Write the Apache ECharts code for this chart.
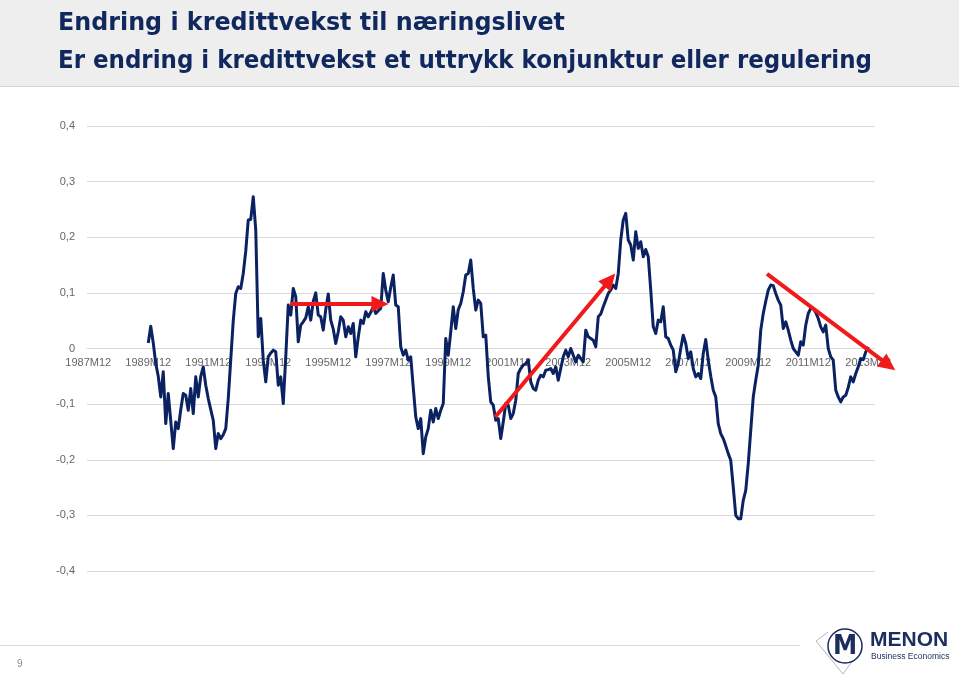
<!DOCTYPE html>
<html>
<head>
<meta charset="utf-8">
<script src="https://cdn.jsdelivr.net/npm/echarts/dist/echarts.min.js"></script>
<style>
html,body{margin:0;padding:0;background:#fff;}
#c{width:959px;height:676px;}
</style>
</head>
<body>
<div id="c"></div>
<script>
// ---- data ----
const startYear = 1987, startMonth = 12, categoryCount = 315;
const dataStartIndex = 24; // 1989M12
const values = [
  0.010, 0.040, 0.010,-0.027,-0.050,-0.087,-0.042,-0.135,-0.081,-0.130,
 -0.180,-0.132,-0.144,-0.110,-0.081,-0.084,-0.111,-0.072,-0.117,-0.051,
 -0.087,-0.050,-0.033,-0.066,-0.090,-0.110,-0.129,-0.180,-0.153,-0.162,
 -0.155,-0.144,-0.090,-0.020, 0.050, 0.099, 0.111, 0.108, 0.135, 0.175,
  0.231, 0.232, 0.273, 0.213, 0.021, 0.054,-0.021,-0.060,-0.015,-0.008,
 -0.003,-0.006,-0.066,-0.051,-0.099,-0.015, 0.078, 0.060, 0.108, 0.093,
  0.012, 0.042, 0.048, 0.055, 0.075, 0.051, 0.085, 0.100, 0.060, 0.057,
  0.033, 0.070, 0.098, 0.051, 0.035, 0.009, 0.030, 0.057, 0.051, 0.021,
  0.039, 0.027, 0.045,-0.015, 0.020, 0.051, 0.045, 0.066, 0.057, 0.065,
  0.075, 0.063, 0.068, 0.072, 0.135, 0.105, 0.084, 0.110, 0.132, 0.078,
  0.075, 0.003,-0.012,-0.003,-0.021,-0.015,-0.070,-0.123,-0.144,-0.126,
 -0.189,-0.159,-0.144,-0.111,-0.132,-0.108,-0.126,-0.111,-0.099, 0.018,
 -0.012, 0.030, 0.075, 0.036, 0.070, 0.081, 0.102, 0.132, 0.135, 0.159,
  0.108, 0.069, 0.087, 0.081, 0.021, 0.024,-0.050,-0.096,-0.102,-0.129,
 -0.126,-0.162,-0.132,-0.099,-0.102,-0.126,-0.117,-0.093,-0.045,-0.036,
 -0.030,-0.027,-0.021,-0.060,-0.072,-0.075,-0.057,-0.048,-0.051,-0.039,
 -0.038,-0.036,-0.045,-0.033,-0.057,-0.036,-0.015,-0.003,-0.015, 0.000,
 -0.012,-0.024,-0.012,-0.018,-0.024, 0.033, 0.021, 0.018, 0.015, 0.003,
  0.057, 0.062, 0.075, 0.087, 0.099, 0.105, 0.114, 0.108, 0.135, 0.195,
  0.231, 0.243, 0.195, 0.186, 0.159, 0.210, 0.180, 0.192, 0.165, 0.178,
  0.165, 0.105, 0.039, 0.027, 0.051, 0.048, 0.075, 0.021, 0.018, 0.006,
 -0.003,-0.042,-0.027, 0.000, 0.024, 0.009,-0.018,-0.006,-0.036,-0.051,
 -0.045,-0.054,-0.009, 0.016,-0.021,-0.050,-0.075,-0.087,-0.135,-0.153,
 -0.162,-0.175,-0.189,-0.201,-0.249,-0.300,-0.306,-0.306,-0.273,-0.255,
 -0.207,-0.147,-0.087,-0.057,-0.030, 0.033, 0.063, 0.085, 0.105, 0.114,
  0.113, 0.099, 0.087, 0.078, 0.036, 0.048, 0.033, 0.015, 0.000,-0.006,
 -0.012, 0.012, 0.006, 0.042, 0.063, 0.072, 0.072, 0.065, 0.054, 0.039,
  0.030, 0.042, 0.000,-0.015,-0.021,-0.075,-0.087,-0.096,-0.087,-0.084,
 -0.070,-0.051,-0.060,-0.045,-0.033,-0.018,-0.020,-0.006, 0.003
];
const yTicks = { min: -0.4, max: 0.4, interval: 0.1 };
// annotation arrows: [startIndex, startValue, endIndex, endValue]
const arrows = [
  [80.8, 0.080, 120.1, 0.080],
  [162.8, -0.123, 210.8, 0.135],
  [271.5, 0.134, 322.8, -0.039]
];
const titleLine1 = 'Endring i kredittvekst til næringslivet';
const titleLine2 = 'Er endring i kredittvekst et uttrykk konjunktur eller regulering';

// ---- build ----
const categories = [];
for (let i = 0; i < categoryCount; i++) {
  const t = (startYear * 12 + (startMonth - 1)) + i;
  categories.push(Math.floor(t / 12) + 'M' + String(t % 12 + 1).padStart(2, '0'));
}
const seriesData = categories.map((c, i) => {
  const k = i - dataStartIndex;
  return (k >= 0 && k < values.length) ? values[k] : null;
});

const NAVY = '#0b2262';
const TITLE = '#10285e';
const LABEL = '#666666';
const chart = echarts.init(document.getElementById('c'), null, { renderer: 'canvas' });
const baseFont = '"Liberation Sans", Arial, sans-serif';
const titleFont = '"DejaVu Sans Condensed", "DejaVu Sans", sans-serif';
const titleFontSpec = 'bold 25px ' + titleFont;

const mctx = document.createElement('canvas').getContext('2d');
function fitScale(text, font, target) {
  mctx.font = font;
  return target / mctx.measureText(text).width;
}
const s1 = fitScale(titleLine1, titleFontSpec, 507);
const s2 = fitScale(titleLine2, titleFontSpec, 814);

const gridTop = 126, gridBottom = 105, chartH = 676;
const gridHeight = chartH - gridTop - gridBottom;
const zeroOffset = -gridHeight * (0 - yTicks.min) / (yTicks.max - yTicks.min);

const staticGraphics = [
  { type: 'rect', shape: { x: 0, y: 0, width: 959, height: 86 }, style: { fill: '#eeeeee' }, z: 0 },
  { type: 'line', shape: { x1: 0, y1: 86.5, x2: 959, y2: 86.5 }, style: { stroke: '#d4d4d4', lineWidth: 1 } },
  { type: 'text', x: 58, y: 23, scaleX: s1, style: { text: titleLine1, font: titleFontSpec, fill: TITLE, verticalAlign: 'middle' } },
  { type: 'text', x: 58, y: 61.5, scaleX: s2, style: { text: titleLine2, font: titleFontSpec, fill: TITLE, verticalAlign: 'middle' } },
  { type: 'line', shape: { x1: 0, y1: 645.5, x2: 800, y2: 645.5 }, style: { stroke: '#dadada', lineWidth: 1 } },
  { type: 'text', x: 17, y: 664, style: { text: '9', font: '10px ' + baseFont, fill: '#8c8c8c', verticalAlign: 'middle' } },
  // logo
  { type: 'polyline', shape: { points: [[828, 632], [816, 641], [843, 674], [862, 647], [845, 628]] }, style: { fill: 'none', stroke: '#9aa2b8', lineWidth: 0.8 } },
  { type: 'circle', shape: { cx: 845, cy: 646, r: 17 }, style: { fill: '#ffffff', stroke: '#1c2d5e', lineWidth: 1.5 } },
  { type: 'text', x: 845, y: 647, style: { text: 'M', font: 'bold 27px ' + titleFont, fill: '#1c2d5e', align: 'center', verticalAlign: 'middle' } },
  { type: 'text', x: 870, y: 640, style: { text: 'MENON', font: 'bold 21px ' + baseFont, fill: '#1c2d5e', verticalAlign: 'middle' } },
  { type: 'text', x: 871, y: 657, style: { text: 'Business Economics', font: '8.5px ' + baseFont, fill: '#1c2d5e', verticalAlign: 'middle' } }
];

chart.setOption({
  animation: false,
  backgroundColor: '#ffffff',
  grid: { left: 87, right: 84.5, top: gridTop, bottom: gridBottom, containLabel: false, outerBoundsMode: 'none' },
  xAxis: {
    type: 'category',
    data: categories,
    boundaryGap: true,
    offset: zeroOffset,
    axisLine: { show: true, onZero: false, lineStyle: { color: '#d9d9d9', width: 1 } },
    axisTick: { show: false },
    axisLabel: { interval: 23, color: LABEL, fontSize: 11, fontFamily: baseFont, margin: 9, hideOverlap: false },
    splitLine: { show: false }
  },
  yAxis: {
    type: 'value',
    min: yTicks.min, max: yTicks.max, interval: yTicks.interval,
    axisLine: { show: false },
    axisTick: { show: false },
    axisLabel: {
      color: LABEL, fontSize: 11, fontFamily: baseFont, margin: 12,
      formatter: v => Math.abs(v) < 1e-9 ? '0' : v.toFixed(1).replace('.', ',')
    },
    splitLine: { show: true, lineStyle: { color: '#d9d9d9', width: 1 } }
  },
  series: [{
    type: 'line',
    data: seriesData,
    showSymbol: false,
    symbol: 'none',
    connectNulls: false,
    lineStyle: { color: NAVY, width: 3, join: 'round' },
    itemStyle: { color: NAVY },
    z: 3
  }],
  graphic: staticGraphics
});

// arrows positioned through the axes (extrapolating past the last category when needed)
function toPx(idx, val) {
  const lo = Math.floor(Math.min(idx, categoryCount - 2));
  const a = chart.convertToPixel({ xAxisIndex: 0, yAxisIndex: 0 }, [lo, val]);
  const b = chart.convertToPixel({ xAxisIndex: 0, yAxisIndex: 0 }, [lo + 1, val]);
  return [a[0] + (b[0] - a[0]) * (idx - lo), a[1]];
}
const RED = '#f01a1a';
const arrowGraphics = [];
arrows.forEach(([i1, v1, i2, v2]) => {
  const p1 = toPx(i1, v1), p2 = toPx(i2, v2);
  const dx = p2[0] - p1[0], dy = p2[1] - p1[1];
  const L = Math.hypot(dx, dy), ux = dx / L, uy = dy / L;
  const hl = 17, hw = 8;
  const bx = p2[0] - ux * hl, by = p2[1] - uy * hl;
  arrowGraphics.push({ type: 'line', shape: { x1: p1[0], y1: p1[1], x2: bx + ux * 2, y2: by + uy * 2 }, style: { stroke: RED, lineWidth: 4 }, z: 10 });
  arrowGraphics.push({ type: 'polygon', shape: { points: [[p2[0], p2[1]], [bx - uy * hw, by + ux * hw], [bx + uy * hw, by - ux * hw]] }, style: { fill: RED }, z: 10 });
});
chart.setOption({ graphic: staticGraphics.concat(arrowGraphics) }, { replaceMerge: ['graphic'] });
</script>
</body>
</html>
